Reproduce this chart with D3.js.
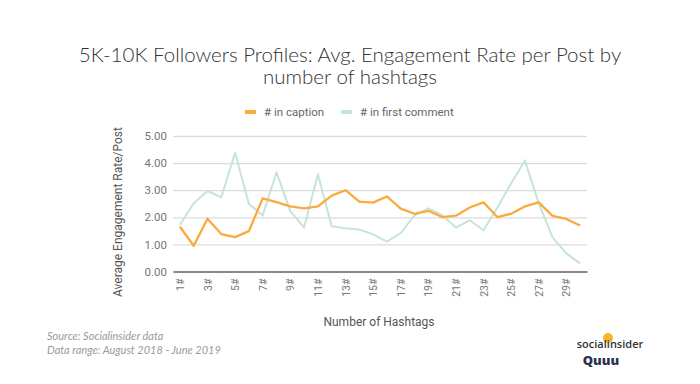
<!DOCTYPE html>
<html><head><meta charset="utf-8">
<script src="https://cdn.jsdelivr.net/npm/d3@7"></script>
<style>body{margin:0;background:#fff}svg{display:block}</style>
</head><body><svg id="c" width="700" height="384"></svg>
<script>
const categories = d3.range(1,31).map(d=>d+"#");
const caption = [1.65,0.95,1.95,1.38,1.27,1.49,2.70,2.56,2.40,2.33,2.40,2.80,3.00,2.58,2.54,2.77,2.32,2.13,2.24,2.01,2.06,2.36,2.55,2.01,2.13,2.40,2.55,2.05,1.94,1.70];
const firstComment = [1.72,2.52,2.97,2.74,4.38,2.49,2.07,3.66,2.23,1.62,3.59,1.67,1.60,1.55,1.37,1.10,1.42,2.07,2.33,2.08,1.62,1.89,1.52,2.35,3.25,4.10,2.52,1.26,0.67,0.30];
const yTicks = [0,1,2,3,4,5];
const seriesNames = ["# in caption","# in first comment"];
const colors = ["#fbaa3c","#c5e5d5"];

const svg = d3.select("#c");
const m = {l:173, r:587, t:136, b:271.5};
const x = d3.scalePoint().domain(categories).range([m.l,m.r]).padding(0.5);
const y = d3.scaleLinear().domain([0,5]).range([m.b,m.t]);

// title
const tt = svg.append("g").attr("font-family","Lato, 'Open Sans', sans-serif").attr("font-weight",300)
  .attr("font-size",20.5).attr("fill","#333").attr("text-anchor","middle");
tt.append("text").attr("x",350).attr("y",62).text("5K-10K Followers Profiles: Avg. Engagement Rate per Post by");
tt.append("text").attr("x",350).attr("y",84).text("number of hashtags");

// legend
const lg = svg.append("g").attr("font-family","Roboto, sans-serif").attr("font-size",11.5).attr("fill","#666");
const lx = [245,341];
seriesNames.forEach((n,i)=>{
  lg.append("rect").attr("x",lx[i]).attr("y",110).attr("width",11).attr("height",4).attr("fill",colors[i]);
  lg.append("text").attr("x",lx[i]+19).attr("y",116).text(n);
});

// grid
const ax = svg.append("g").attr("transform",`translate(${m.l},0)`)
  .call(d3.axisLeft(y).tickValues(yTicks).tickFormat(d3.format(".2f")).tickSize(-(m.r-m.l)).tickPadding(6));
ax.select(".domain").remove();
ax.selectAll(".tick line").attr("stroke","#dcdcdc").attr("stroke-width",1.3);
ax.selectAll(".tick text").attr("font-family","Roboto, sans-serif").attr("font-size",11.5).attr("fill","#777");

// x axis
const xa = svg.append("g").attr("transform",`translate(0,${m.b})`)
  .call(d3.axisBottom(x).tickValues(categories.filter((d,i)=>i%2===0)).tickSize(0).tickPadding(0));
xa.select(".domain").attr("stroke","#8a8a8a").attr("stroke-width",2);
xa.selectAll(".tick text").attr("font-family","Roboto, sans-serif").attr("font-size",10.5).attr("fill","#777")
  .attr("transform","rotate(-90)").attr("text-anchor","end").attr("x",-7).attr("y",0).attr("dy","0.35em");

// lines
const line = d3.line().x((d,i)=>x(categories[i])).y(d=>y(d));
svg.append("path").datum(firstComment).attr("d",line).attr("fill","none").attr("stroke",colors[1]).attr("stroke-width",2).attr("stroke-linejoin","round");
svg.append("path").datum(caption).attr("d",line).attr("fill","none").attr("stroke",colors[0]).attr("stroke-width",2.3).attr("stroke-linejoin","round");

// axis titles
svg.append("text").attr("transform","translate(122,212) rotate(-90)").attr("text-anchor","middle")
  .attr("font-family","Roboto, sans-serif").attr("font-size",12).attr("fill","#555").text("Average Engagement Rate/Post");
svg.append("text").attr("x",379).attr("y",326).attr("text-anchor","middle")
  .attr("font-family","Roboto, sans-serif").attr("font-size",12).attr("fill","#555").text("Number of Hashtags");

// footer
const ft = svg.append("g").attr("font-family","Lato, 'Open Sans', sans-serif").attr("font-style","italic").attr("font-size",11).attr("fill","#9a9a9a");
ft.append("text").attr("x",47).attr("y",340).text("Source: Socialinsider data");
ft.append("text").attr("x",47).attr("y",354).text("Data range: August 2018 - June 2019");

// logos
svg.append("circle").attr("cx",608).attr("cy",338).attr("r",5).attr("fill","#f7b52c");
svg.append("text").attr("x",610).attr("y",348).attr("text-anchor","middle").attr("font-family","'Open Sans', sans-serif")
  .attr("font-weight",600).attr("font-size",11).attr("fill","#333").text("socialinsider");
svg.append("text").attr("x",601).attr("y",365).attr("text-anchor","middle").attr("font-family","'Open Sans', sans-serif")
  .attr("font-weight",800).attr("font-size",13).attr("fill","#2d3150").text("Quuu");
</script></body></html>
